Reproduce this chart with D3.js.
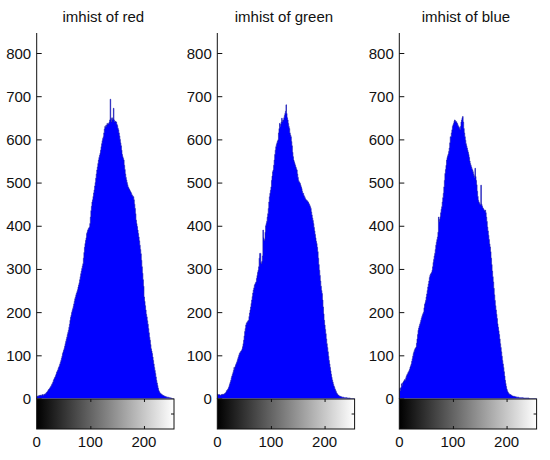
<!DOCTYPE html>
<html><head><meta charset="utf-8">
<script src="https://cdn.jsdelivr.net/npm/d3@7"></script>
<style>body{margin:0;background:#fff}svg{display:block}text{font-family:"Liberation Sans",Arial,sans-serif;fill:#111}</style>
</head><body>
<svg id="c" width="550" height="460"></svg>
<script>
const titles = ["imhist of red", "imhist of green", "imhist of blue"];
const yTicks = [0,100,200,300,400,500,600,700,800];
const xTicks = [0,100,200];

const redCounts = [
4,5,6,5,7,6,8,7,6,8,9,8,7,9,10,9,
11,12,14,15,17,19,21,22,24,26,28,30,33,35,38,42,
45,48,50,53,57,61,63,66,70,73,76,80,84,88,93,98,
104,108,112,116,121,127,132,137,142,148,153,158,165,172,181,188,
193,199,204,208,213,219,225,231,235,240,244,248,252,258,263,268,
275,282,289,295,301,307,312,325,338,350,359,366,372,382,386,390,
393,395,397,405,420,435,445,455,460,468,476,483,492,500,510,520,
529,536,544,552,558,563,568,575,583,590,597,602,606,615,624,630,
628,633,630,637,634,636,637,640,645,693,648,640,650,645,648,672,
645,640,642,641,640,635,632,626,622,615,608,600,592,585,575,565,
560,556,552,540,530,520,512,506,500,495,490,488,485,483,480,478,
475,472,470,468,467,460,450,440,428,413,405,398,390,382,374,365,
355,345,335,320,305,290,275,260,235,225,215,205,195,189,180,172,
162,152,142,135,125,115,110,104,96,88,80,72,65,58,50,42,
36,30,24,19,16,14,12,11,10,9,8,7,7,6,5,5,
4,4,3,3,3,3,2,2,2,1,1,1,0,0,0,0];

const greenCounts = [
10,9,8,9,8,7,8,9,8,9,10,9,10,11,12,13,
15,18,19,21,23,26,30,34,38,42,48,52,56,60,65,72,
68,74,78,81,84,88,92,96,100,104,106,108,110,111,115,120,
127,135,145,155,162,170,174,176,178,180,181,190,198,205,212,220,
228,236,244,251,256,262,265,268,270,278,285,292,297,305,325,336,
336,315,312,318,330,390,372,365,368,385,400,405,410,420,428,440,
455,467,475,482,490,505,515,525,529,540,552,565,575,583,588,592,
596,599,615,625,637,630,635,640,649,640,644,645,650,655,660,665,
680,660,650,645,637,630,625,615,610,606,595,585,570,560,552,548,
544,540,536,532,529,520,512,505,502,500,498,494,490,486,480,475,
475,470,468,465,462,460,459,458,456,455,452,450,447,444,440,432,
425,418,412,405,396,388,380,372,364,359,350,340,325,310,297,285,
272,260,250,243,228,212,196,181,170,160,150,138,127,118,108,98,
88,80,72,64,56,49,43,38,33,29,26,22,19,16,13,11,
9,8,7,6,5,5,4,4,3,3,3,3,2,2,2,2,
2,2,1,1,1,1,1,1,0,0,0,0,0,0,0,0];

const blueCounts = [
20,24,18,26,34,30,36,38,40,42,44,42,48,52,55,57,
60,62,65,68,73,76,80,86,92,98,104,108,112,115,117,119,
128,138,148,158,163,168,172,176,181,186,190,194,197,200,210,218,
222,227,235,242,250,258,265,272,280,285,288,290,292,297,305,315,
322,330,336,345,355,362,368,374,385,420,410,415,421,430,438,444,
455,465,475,490,505,521,530,540,552,558,562,566,572,580,592,606,
606,615,622,630,634,637,642,645,643,640,641,638,636,632,630,628,
625,622,630,640,645,650,653,640,625,615,606,598,590,585,580,575,
570,565,558,550,544,540,536,532,529,525,520,516,512,533,514,505,
495,480,468,459,455,452,450,448,494,450,446,442,440,438,436,434,
436,430,420,410,397,388,378,368,358,351,340,325,310,295,282,270,
255,240,227,215,205,195,185,173,165,157,148,138,127,118,108,98,
88,80,72,62,52,42,35,28,22,18,15,13,11,10,9,9,
8,7,6,6,5,5,5,4,4,4,3,3,3,3,3,2,
2,2,2,2,2,2,2,1,1,1,1,1,1,1,1,1,
1,1,0,0,0,0,0,0,0,0,0,0,0,0,0,0];

const seriesList = [redCounts, greenCounts, blueCounts];
const panelLeft = [36.7, 217.3, 399.3];
const panelW = 137.3;
const yTop = 33, yZero = 398.5, cbTop = 399, cbBot = 429;

const svg = d3.select("#c");
const defs = svg.append("defs");
const grad = defs.append("linearGradient").attr("id","gray").attr("x1","0%").attr("x2","100%");
grad.append("stop").attr("offset","0%").attr("stop-color","#000");
grad.append("stop").attr("offset","100%").attr("stop-color","#fff");

const y = d3.scaleLinear().domain([0, 800]).range([yZero, 53]);

seriesList.forEach((counts, p) => {
  const x0 = panelLeft[p];
  const x = d3.scaleLinear().domain([0, 256]).range([x0, x0 + panelW]);
  const g = svg.append("g");

  // title
  g.append("text").attr("x", x0 + panelW/2 - 2).attr("y", 22)
    .attr("text-anchor","middle").attr("font-size", 15).text(titles[p]);

  // histogram as a stepped area
  const pts = counts.concat([0]);
  const area = d3.area().curve(d3.curveStepAfter)
    .x((d,i) => x(i)).y0(yZero).y1(d => y(d));
  g.append("path").datum(pts).attr("d", area).attr("fill", "#0000ff");
  const line = d3.line().curve(d3.curveStepAfter).x((d,i)=>x(i)).y(d=>y(d));
  g.append("path").datum(pts).attr("d", line)
    .attr("fill","none").attr("stroke","#1a1aa8").attr("stroke-width",0.6);

  // y axis
  const yAxis = d3.axisRight(y).tickValues(yTicks).tickSize(5).tickFormat("");
  const ya = g.append("g").attr("transform",`translate(${x0},0)`).call(yAxis);
  ya.select(".domain").remove();
  ya.selectAll("line").attr("stroke","#111");
  g.append("line").attr("x1",x0).attr("x2",x0).attr("y1",yTop).attr("y2",cbTop).attr("stroke","#111");
  g.append("g").selectAll("text").data(yTicks).join("text")
    .attr("x", x0 - 5.5).attr("y", d => y(d) + 5.5).attr("text-anchor","end")
    .attr("font-size", 15).text(d => d);

  // colorbar
  g.append("rect").attr("x", x(0)).attr("y", cbTop).attr("width", x(256)-x(0)).attr("height", cbBot-cbTop)
    .attr("fill","url(#gray)").attr("stroke","#111").attr("stroke-width",1);
  const topAx = d3.axisBottom(x).tickValues([100,200]).tickSize(3).tickFormat("");
  const ta = g.append("g").attr("transform",`translate(0,${cbTop})`).call(topAx);
  ta.select(".domain").remove(); ta.selectAll("line").attr("stroke","#111");
  const botAx = d3.axisTop(x).tickValues([100,200]).tickSize(3).tickFormat("");
  const ba = g.append("g").attr("transform",`translate(0,${cbBot})`).call(botAx);
  ba.select(".domain").remove(); ba.selectAll("line").attr("stroke","#111");
  g.append("line").attr("x1", x(256)-3).attr("x2", x(256)).attr("y1",(cbTop+cbBot)/2).attr("y2",(cbTop+cbBot)/2).attr("stroke","#111");

  // x labels
  g.append("g").selectAll("text").data(xTicks).join("text")
    .attr("x", d => x(d)).attr("y", 447).attr("text-anchor","middle")
    .attr("font-size", 15).text(d => d);
});
</script>
</body></html>
